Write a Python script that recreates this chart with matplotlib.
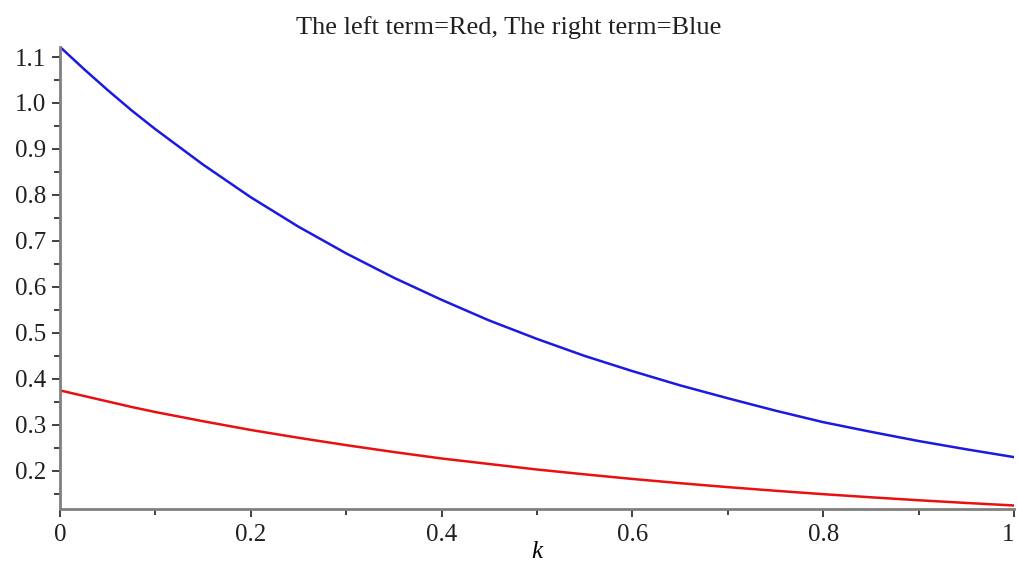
import matplotlib.pyplot as plt
import numpy as np
from matplotlib.ticker import MultipleLocator

plt.rcParams['font.family'] = ['Liberation Serif', 'DejaVu Serif']

# values
k = [0.0, 0.025, 0.05, 0.075, 0.10, 0.15, 0.20, 0.25, 0.30, 0.35, 0.40, 0.45, 0.50,
     0.55, 0.60, 0.65, 0.70, 0.75, 0.80, 0.85, 0.90, 0.95, 1.0]
left_term = [0.375, 0.363, 0.351, 0.339, 0.328, 0.308, 0.289, 0.272, 0.256, 0.241, 0.227, 0.215, 0.203,
             0.1925, 0.1825, 0.1733, 0.1647, 0.1568, 0.1494, 0.1426, 0.1362, 0.1303, 0.1248]
right_term = [1.122, 1.074, 1.028, 0.984, 0.943, 0.866, 0.795, 0.731, 0.673, 0.620, 0.572, 0.527, 0.487,
              0.450, 0.417, 0.386, 0.358, 0.331, 0.306, 0.285, 0.265, 0.247, 0.230]

x_ticks = [0, 0.2, 0.4, 0.6, 0.8, 1]
x_labels = ['0', '0.2', '0.4', '0.6', '0.8', '1']
y_ticks = [0.2, 0.3, 0.4, 0.5, 0.6, 0.7, 0.8, 0.9, 1.0, 1.1]

fig = plt.figure(figsize=(10.17, 5.65), dpi=100)
ax = fig.add_axes([0.059, 0.099, 0.938, 0.818])

ax.plot(k, left_term, color='#e81010', lw=1.8, solid_joinstyle='round')
ax.plot(k, right_term, color='#1a1ae0', lw=1.8, solid_joinstyle='round')

ax.set_xlim(0, 1)
ax.set_ylim(0.117, 1.122)

for s in ['top', 'right']:
    ax.spines[s].set_visible(False)
for s in ['left', 'bottom']:
    ax.spines[s].set_color('#808080')
    ax.spines[s].set_linewidth(2)

ax.set_xticks(x_ticks)
ax.set_xticklabels(x_labels)
ax.set_yticks(y_ticks)
ax.set_yticklabels(['%.1f' % v for v in y_ticks])
ax.xaxis.set_minor_locator(MultipleLocator(0.1))
ax.yaxis.set_minor_locator(MultipleLocator(0.05))
ax.tick_params(which='major', length=6, width=1.2, color='#404040', labelsize=18, pad=4)
ax.tick_params(axis='x', which='major', pad=5)
ax.tick_params(which='minor', length=4, width=1.2, color='#404040')
ax.tick_params(colors='#202020', which='both', labelcolor='#202020')
# the last label sits at the figure edge, keep it inside
ax.get_xticklabels()[-1].set_horizontalalignment('right')

ax.set_xlabel('k', fontstyle='italic', fontsize=18, labelpad=-4)
fig.text(0.5, 1 - 28 / 565, 'The left term=Red, The right term=Blue',
         fontsize=19, ha='center', va='center', color='#202020')

fig.savefig('out.png', dpi=100)
